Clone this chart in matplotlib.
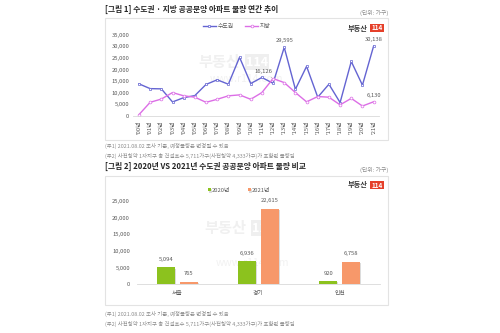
import matplotlib
matplotlib.use("Agg")
import matplotlib.pyplot as plt
from matplotlib.patches import Rectangle
import matplotlib.patheffects as pe

plt.rcParams['font.family'] = ['Noto Sans CJK KR', 'DejaVu Sans']
plt.rcParams['axes.unicode_minus'] = False

# ==================== 데이터 ====================

years = ["'%02d년" % y for y in range(0, 22)]
capital = [13850, 11800, 11700, 6060, 7900, 8800, 13600, 15600, 13700, 25300, 14000,
           16600, 14100, 29595, 11500, 21400, 8100, 13700, 5800, 23500, 13300, 30138]
local = [600, 5900, 7300, 10100, 8700, 8100, 5900, 7200, 8700, 9100, 7200,
         10100, 16126, 14400, 10100, 6100, 8400, 8100, 4800, 7600, 4300, 6130]
capital_labeled = [13, 21]
local_labeled = [12, 21]

regions = ["서울", "경기", "인천"]
vol_2020 = [5094, 6936, 920]
vol_2021 = [765, 22615, 6758]

BLUE = "#6464D2"
PINK = "#DC6EE6"
GREEN = "#8CC21E"
ORANGE = "#F7986A"
GREY_TXT = "#595959"
NOTE_TXT = "#8C8C8C"

W, H = 500, 333


def fx(px):
    return px / W


def fy(py):
    return 1 - py / H


def draw_frame(fig, top, bottom):
    fig.patches.append(Rectangle((fx(105), fy(bottom)), fx(388 - 105), (bottom - top) / H,
                                 transform=fig.transFigure, fill=False,
                                 edgecolor="#E3E3E3", linewidth=0.8))


def draw_logo(fig, py):
    fig.text(fx(368), fy(py), "부동산", ha="right", va="center", fontsize=5.2,
             fontweight="bold", color="#3A3A3A")
    fig.text(fx(377), fy(py), "114", ha="center", va="center", fontsize=4.6,
             fontweight="bold", color="white",
             bbox=dict(boxstyle="square,pad=0.15", facecolor="#E5402A", edgecolor="none"))


def draw_watermark(fig, cx, cy, www_gap):
    # 연한 회색 워터마크 (부동산114 / www.r114.com), 축 뒤에 깔림
    fig.text(fx(cx), fy(cy), "부동산", ha="right", va="center", fontsize=11,
             fontweight="bold", color="#F0F0F0", zorder=-1)
    fig.text(fx(cx + 6), fy(cy), "114", ha="left", va="center", fontsize=9,
             fontweight="bold", color="white", zorder=-1,
             bbox=dict(boxstyle="square,pad=0.1", facecolor="#EFEFEF", edgecolor="none"))
    fig.text(fx(cx + 6), fy(cy + www_gap), "www.r114.com", ha="center", va="center",
             fontsize=7.5, color="#F2F2F2", zorder=-1)


def notes(fig, py):
    fig.text(fx(105), fy(py), "(주1) 2021.08.02 조사 기준, 예정물량은 변경될 수 있음",
             ha="left", va="center", fontsize=3.9, color=NOTE_TXT)
    fig.text(fx(105), fy(py + 10),
             "(주2) 사전청약 1차지구 총 건설호수 5,711가구(사전청약 4,333가구)가 포함된 물량임",
             ha="left", va="center", fontsize=3.9, color=NOTE_TXT)


fig = plt.figure(figsize=(5, 3.33), dpi=100)
fig.patch.set_facecolor("white")

# ==================== 그림 1: 연간 추이 ====================

fig.text(fx(105), fy(9), "[그림 1] 수도권 · 지방 공공분양 아파트 물량 연간 추이",
         ha="left", va="center", fontsize=5.6, fontweight="bold", color="#262626")
fig.text(fx(388), fy(13), "(단위: 가구)", ha="right", va="center", fontsize=4.2, color=NOTE_TXT)
draw_frame(fig, 18, 140)
draw_logo(fig, 28)
draw_watermark(fig, 240, 62, 17)

ax1 = fig.add_axes([fx(133.4), fy(116), fx(379.2 - 133.4), (116 - 34.8) / H])
ax1.patch.set_alpha(0)
x = list(range(len(years)))
ax1.plot(x, capital, color=BLUE, linewidth=1.0, marker="s", markersize=2.0,
         markerfacecolor="white", markeredgecolor=BLUE, markeredgewidth=0.5, label="수도권")
ax1.plot(x, local, color=PINK, linewidth=1.0, marker="o", markersize=2.0,
         markerfacecolor="white", markeredgecolor=PINK, markeredgewidth=0.5, label="지방")

for i in capital_labeled:
    ax1.annotate(f"{capital[i]:,}", (i, capital[i]), xytext=(0, 3), textcoords="offset points",
                 ha="center", va="bottom", fontsize=4.2, color=GREY_TXT)
for i in local_labeled:
    if i == 12:
        ax1.annotate(f"{local[i]:,}", (i, local[i]), xytext=(-7, 3), textcoords="offset points",
                     ha="center", va="bottom", fontsize=4.2, color=GREY_TXT,
                     arrowprops=dict(arrowstyle="-", color="#A6A6A6", linewidth=0.4,
                                     shrinkA=0, shrinkB=1))
    else:
        ax1.annotate(f"{local[i]:,}", (i, local[i]), xytext=(0, 3), textcoords="offset points",
                     ha="center", va="bottom", fontsize=4.2, color=GREY_TXT)

ax1.set_xlim(-0.5, len(years) - 0.5)
ax1.set_ylim(0, 35000)
ax1.set_yticks(range(0, 35001, 5000))
ax1.set_yticklabels([f"{v:,}" for v in range(0, 35001, 5000)])
ax1.set_xticks(x)
ax1.set_xticklabels(years, rotation=90)
ax1.tick_params(axis="both", length=0, labelsize=4.2, labelcolor=GREY_TXT, pad=3)
for side in ["top", "right", "left"]:
    ax1.spines[side].set_visible(False)
ax1.spines["bottom"].set_color("#D9D9D9")
ax1.spines["bottom"].set_linewidth(0.6)
ax1.legend(loc="upper center", bbox_to_anchor=(0.42, 1.2), ncol=2, frameon=False,
           fontsize=4.2, labelcolor=GREY_TXT, handlelength=2.2, columnspacing=2.0,
           handletextpad=0.3)

notes(fig, 146)

# ==================== 그림 2: 2020 vs 2021 ====================

fig.text(fx(105), fy(166), "[그림 2] 2020년 VS 2021년 수도권 공공분양 아파트 물량 비교",
         ha="left", va="center", fontsize=5.6, fontweight="bold", color="#262626")
fig.text(fx(388), fy(170), "(단위: 가구)", ha="right", va="center", fontsize=4.2, color=NOTE_TXT)
draw_frame(fig, 176, 305)
draw_logo(fig, 185)
draw_watermark(fig, 246, 228, 35)

ax2 = fig.add_axes([fx(137), fy(284.4), fx(380 - 137), (284.4 - 201) / H])
ax2.patch.set_alpha(0)
pos = list(range(len(regions)))
shadow = [pe.SimplePatchShadow(offset=(0.8, -0.8), shadow_rgbFace="#BBBBBB", alpha=0.5), pe.Normal()]
b1 = ax2.bar([p - 0.14 for p in pos], vol_2020, width=0.22, color=GREEN, label="2020년")
b2 = ax2.bar([p + 0.14 for p in pos], vol_2021, width=0.22, color=ORANGE, label="2021년")
for bar in list(b1) + list(b2):
    bar.set_path_effects(shadow)
for bars, vals in [(b1, vol_2020), (b2, vol_2021)]:
    for bar, v in zip(bars, vals):
        ax2.annotate(f"{v:,}", (bar.get_x() + bar.get_width() / 2, v), xytext=(0, 4),
                     textcoords="offset points", ha="center", va="bottom",
                     fontsize=4.2, color=GREY_TXT)

ax2.set_xlim(-0.5, len(regions) - 0.5)
ax2.set_ylim(0, 25000)
ax2.set_yticks(range(0, 25001, 5000))
ax2.set_yticklabels([f"{v:,}" for v in range(0, 25001, 5000)])
ax2.set_xticks(pos)
ax2.set_xticklabels(regions)
ax2.tick_params(axis="both", length=0, labelsize=4.2, labelcolor=GREY_TXT, pad=5)
for side in ["top", "right", "left"]:
    ax2.spines[side].set_visible(False)
ax2.spines["bottom"].set_color("#D9D9D9")
ax2.spines["bottom"].set_linewidth(0.6)
ax2.legend(loc="upper center", bbox_to_anchor=(0.42, 1.22), ncol=2, frameon=False,
           fontsize=4.2, labelcolor=GREY_TXT, handlelength=0.5, handleheight=0.5,
           columnspacing=3.0, handletextpad=0.2)

notes(fig, 314)

plt.savefig("out.png", dpi=100)
plt.close()
